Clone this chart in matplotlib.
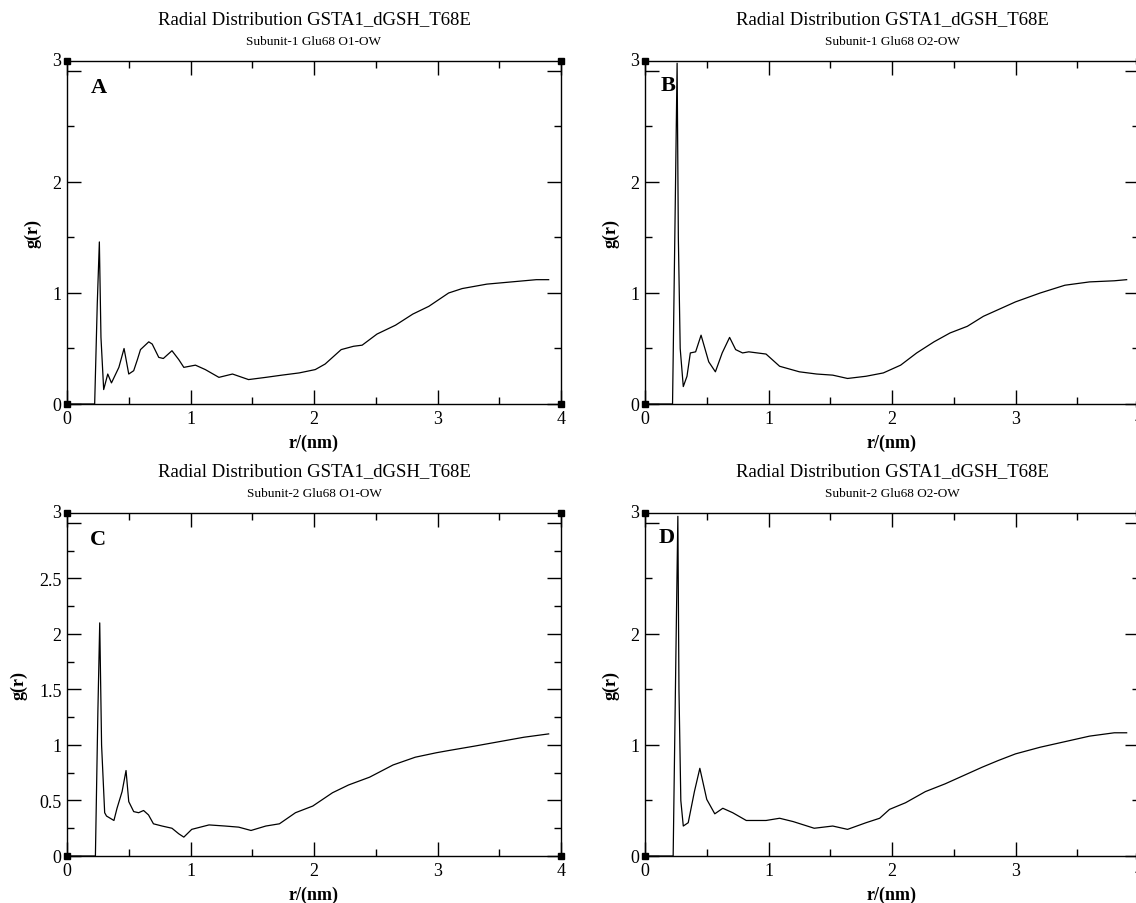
import matplotlib
matplotlib.use('Agg')
import matplotlib.pyplot as plt
from matplotlib.ticker import MultipleLocator, FuncFormatter

plt.rcParams['font.family'] = ['Liberation Serif', 'DejaVu Serif']

# Data (r in nm, g(r))
r_a = [0.0, 0.224, 0.245, 0.262, 0.275, 0.297, 0.33, 0.36, 0.42, 0.462, 0.50, 0.54, 0.57, 0.595,
       0.662, 0.69, 0.743, 0.78, 0.85, 0.905, 0.946, 1.04, 1.12, 1.23, 1.34, 1.47, 1.61, 1.74,
       1.88, 2.01, 2.09, 2.22, 2.32, 2.39, 2.51, 2.66, 2.80, 2.93, 3.09, 3.2, 3.4, 3.6, 3.8, 3.9]
g_a = [0, 0, 0.9, 1.46, 0.6, 0.13, 0.27, 0.19, 0.33, 0.50, 0.27, 0.30, 0.40, 0.49,
       0.56, 0.54, 0.42, 0.41, 0.48, 0.40, 0.33, 0.35, 0.31, 0.24, 0.27, 0.22, 0.24, 0.26,
       0.28, 0.31, 0.36, 0.49, 0.52, 0.53, 0.63, 0.71, 0.81, 0.88, 1.00, 1.04, 1.08, 1.10, 1.12, 1.12]

r_b = [0.0, 0.223, 0.245, 0.26, 0.27, 0.285, 0.31, 0.34, 0.367, 0.41, 0.454, 0.516, 0.57, 0.625,
       0.685, 0.734, 0.79, 0.84, 0.98, 1.09, 1.25, 1.39, 1.52, 1.64, 1.79, 1.93, 2.07, 2.20,
       2.34, 2.47, 2.61, 2.74, 2.88, 3.0, 3.2, 3.4, 3.6, 3.8, 3.9]
g_b = [0, 0, 1.8, 3.07, 1.5, 0.5, 0.157, 0.25, 0.46, 0.47, 0.62, 0.38, 0.29, 0.46,
       0.60, 0.49, 0.46, 0.47, 0.45, 0.34, 0.29, 0.27, 0.26, 0.23, 0.25, 0.28, 0.35, 0.46,
       0.56, 0.64, 0.70, 0.79, 0.86, 0.92, 1.00, 1.07, 1.10, 1.11, 1.12]

r_c = [0.0, 0.23, 0.25, 0.265, 0.28, 0.305, 0.32, 0.35, 0.38, 0.405, 0.446, 0.478, 0.50, 0.54,
       0.58, 0.62, 0.66, 0.70, 0.77, 0.85, 0.905, 0.946, 1.01, 1.15, 1.28, 1.39, 1.49, 1.61,
       1.72, 1.85, 1.99, 2.15, 2.28, 2.45, 2.64, 2.82, 2.99, 3.09, 3.3, 3.5, 3.7, 3.9]
g_c = [0, 0, 1.3, 2.10, 1.0, 0.39, 0.36, 0.34, 0.32, 0.43, 0.58, 0.77, 0.49, 0.40,
       0.39, 0.41, 0.37, 0.29, 0.27, 0.25, 0.20, 0.17, 0.24, 0.28, 0.27, 0.26, 0.23, 0.27,
       0.29, 0.39, 0.45, 0.57, 0.64, 0.71, 0.82, 0.89, 0.93, 0.95, 0.99, 1.03, 1.07, 1.10]

r_d = [0.0, 0.228, 0.25, 0.266, 0.275, 0.29, 0.31, 0.35, 0.40, 0.444, 0.50, 0.565, 0.63, 0.71,
       0.82, 0.98, 1.09, 1.20, 1.37, 1.52, 1.64, 1.79, 1.90, 1.98, 2.11, 2.27, 2.43, 2.59,
       2.73, 2.86, 3.0, 3.2, 3.4, 3.6, 3.8, 3.9]
g_d = [0, 0, 1.8, 3.06, 1.5, 0.5, 0.27, 0.30, 0.58, 0.79, 0.51, 0.38, 0.43, 0.39,
       0.32, 0.32, 0.34, 0.31, 0.25, 0.27, 0.24, 0.30, 0.34, 0.42, 0.48, 0.58, 0.65, 0.73,
       0.80, 0.86, 0.92, 0.98, 1.03, 1.08, 1.11, 1.11]

panels = [
    ('A', 'Subunit-1 Glu68 O1-OW', r_a, g_a, 1.0),
    ('B', 'Subunit-1 Glu68 O2-OW', r_b, g_b, 1.0),
    ('C', 'Subunit-2 Glu68 O1-OW', r_c, g_c, 0.5),
    ('D', 'Subunit-2 Glu68 O2-OW', r_d, g_d, 1.0),
]
title = 'Radial Distribution GSTA1_dGSH_T68E'

W, H = 1136, 904
fig = plt.figure(figsize=(W / 100, H / 100), dpi=100)

# pixel boxes: left, right, top, bottom
boxes = [(67, 561, 62, 405), (645, 1139, 62, 405),
         (67, 561, 514, 857), (645, 1139, 514, 857)]
letter_pos = [(0.065, 0.924), (0.047, 0.93), (0.062, 0.924), (0.043, 0.93)]

ymax = 3.09


def ylab(v, pos):
    # the top label is drawn separately, level with the frame corner
    if abs(v - 3) < 1e-6:
        return ''
    return '%g' % v


for (letter, sub, r, g, ystep), (l, rt, t, b), lp in zip(panels, boxes, letter_pos):
    ax = fig.add_axes([l / W, (H - b) / H, (rt - l) / W, (b - t) / H])
    ax.plot(r, g, color='black', linewidth=0.9)
    ax.set_xlim(0, 4)
    ax.set_ylim(0, ymax)
    ax.xaxis.set_major_locator(MultipleLocator(1))
    ax.xaxis.set_minor_locator(MultipleLocator(0.5))
    ax.yaxis.set_major_locator(MultipleLocator(ystep))
    ax.yaxis.set_minor_locator(MultipleLocator(ystep / 2))
    ax.yaxis.set_major_formatter(FuncFormatter(ylab))
    ax.tick_params(which='both', direction='in', top=True, right=True, width=1)
    ax.tick_params(which='major', length=10, labelsize=13, pad=4)
    ax.tick_params(which='minor', length=5)
    for s in ax.spines.values():
        s.set_linewidth(1)
    ax.text(-6 / (rt - l), 1.0, '3', transform=ax.transAxes, ha='right',
            va='center', fontsize=13)
    # corner squares
    ax.plot([0, 4, 0, 4], [0, 0, ymax, ymax], linestyle='none', marker='s',
            markersize=5, color='black', clip_on=False)
    ax.set_xlabel('r/(nm)', fontsize=13, fontweight='bold', labelpad=5)
    ax.set_ylabel('g(r)', fontsize=13, fontweight='bold', labelpad=8)
    ax.text(0.5, 1 + 42 / 343, title, transform=ax.transAxes, ha='center',
            va='center', fontsize=13.5)
    ax.text(0.5, 1 + 20 / 343, sub, transform=ax.transAxes, ha='center',
            va='center', fontsize=9.5)
    ax.text(lp[0], lp[1], letter, transform=ax.transAxes, ha='center',
            va='center', fontsize=16, fontweight='bold')

plt.savefig('out.png', dpi=100)
